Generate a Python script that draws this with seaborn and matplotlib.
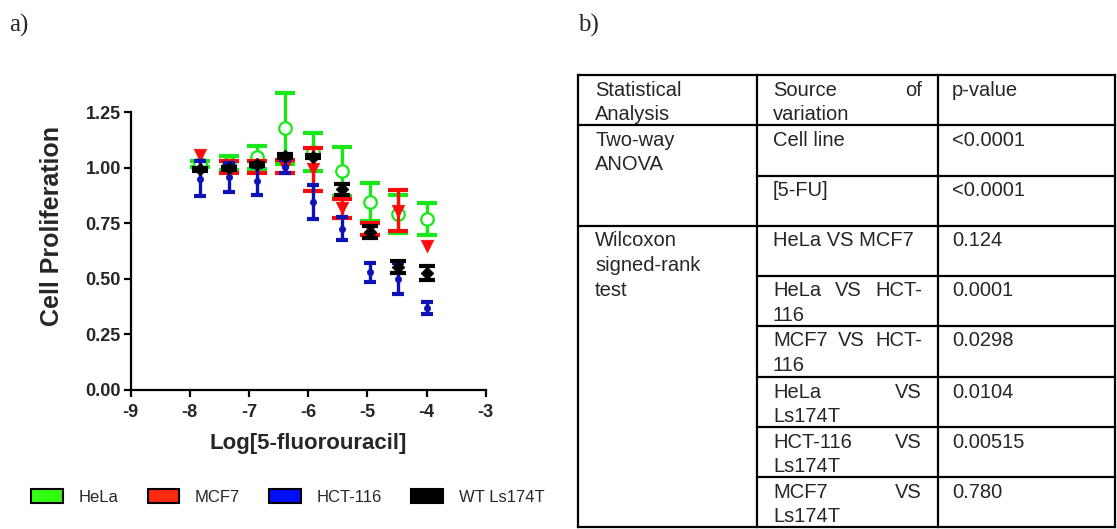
import matplotlib
matplotlib.use("Agg")
import matplotlib.pyplot as plt
import seaborn as sns
import numpy as np
import pandas as pd
from matplotlib.patches import Patch

sns.set_theme(style="white")
plt.rcParams['font.family'] = ['Liberation Sans', 'DejaVu Sans']

# ---------------- data ----------------
log_conc = [-7.82, -7.34, -6.86, -6.39, -5.91, -5.43, -4.95, -4.48, -4.00]

series_names = ["HeLa", "MCF7", "HCT-116", "WT Ls174T"]

hela_mean = [1.018, 1.022, 1.047, 1.178, 1.073, 0.984, 0.845, 0.791, 0.769]
hela_err = [0.015, 0.032, 0.053, 0.161, 0.085, 0.109, 0.086, 0.085, 0.073]

mcf7_mean = [1.059, 1.004, 1.004, 1.006, 0.993, 0.818, 0.725, 0.808, 0.650]
mcf7_err = [0.0, 0.028, 0.026, 0.030, 0.095, 0.044, 0.025, 0.093, 0.0]

hct_mean = [0.952, 0.957, 0.940, 1.006, 0.847, 0.727, 0.529, 0.500, 0.370]
hct_err = [0.077, 0.064, 0.063, 0.030, 0.075, 0.051, 0.041, 0.070, 0.028]

ls_mean = [0.994, 0.998, 1.016, 1.054, 1.051, 0.904, 0.710, 0.553, 0.528]
ls_err = [0.006, 0.008, 0.008, 0.010, 0.008, 0.024, 0.028, 0.028, 0.032]

x_ticks = [-9, -8, -7, -6, -5, -4, -3]
y_ticks = [0.00, 0.25, 0.50, 0.75, 1.00, 1.25]

legend_colors = ["#33ff11", "#ff2a10", "#0010ff", "#000000"]

table_rows = [
    (["Statistical", "Analysis"], [("j", "Source of"), "variation"], ["p-value"]),
    (["Two-way", "ANOVA"], ["Cell line"], ["<0.0001"]),
    (None, ["[5-FU]"], ["<0.0001"]),
    (["Wilcoxon", "signed-rank", "test"], ["HeLa VS MCF7"], ["0.124"]),
    (None, [("j", "HeLa VS HCT-"), "116"], ["0.0001"]),
    (None, [("j", "MCF7 VS HCT-"), "116"], ["0.0298"]),
    (None, [("j", "HeLa VS"), "Ls174T"], ["0.0104"]),
    (None, [("j", "HCT-116 VS"), "Ls174T"], ["0.00515"]),
    (None, [("j", "MCF7 VS"), "Ls174T"], ["0.780"]),
]

# ---------------- figure ----------------
W, H = 1117, 529
fig = plt.figure(figsize=(W / 100, H / 100), dpi=100)

ax = fig.add_axes([130.5 / W, 1 - 390 / H, (485.7 - 130.5) / W, (390 - 79) / H])
ax.set_facecolor("none")

styles = [
    dict(mean=hela_mean, err=hela_err, color="#18e818", marker="o", ms=9.0, face="white", mew=1.6, cap=7.0),
    dict(mean=mcf7_mean, err=mcf7_err, color="#ff0a0a", marker="v", ms=9.0, face="#ff0a0a", mew=0.5, cap=7.0),
    dict(mean=hct_mean, err=hct_err, color="#0a12b8", marker="o", ms=4.5, face="#0a12b8", mew=0.5, cap=4.0),
    dict(mean=ls_mean, err=ls_err, color="#000000", marker="D", ms=6.5, face="#000000", mew=0.5, cap=5.5),
]
for i, st in enumerate(styles):
    df = pd.DataFrame({"x": log_conc, "y": st["mean"], "e": st["err"]})
    dfe = df[df["e"] > 0]
    ax.errorbar(dfe["x"], dfe["y"], yerr=dfe["e"], fmt="none", ecolor=st["color"],
                elinewidth=2.4, capsize=st["cap"], capthick=3.0, zorder=2 + i, clip_on=False)
    sns.scatterplot(data=df, x="x", y="y", ax=ax, marker=st["marker"], s=st["ms"] ** 2,
                    facecolor=st["face"], edgecolor=st["color"], linewidth=st["mew"],
                    zorder=2.5 + i, clip_on=False, legend=False)

ax.set_xlim(-9, -3)
ax.set_ylim(0, 1.40)
ax.spines["left"].set_bounds(0, 1.25)
for s in ["top", "right"]:
    ax.spines[s].set_visible(False)
for s in ["left", "bottom"]:
    ax.spines[s].set_linewidth(1.6)
    ax.spines[s].set_color("black")
ax.set_xticks(x_ticks)
ax.set_yticks(y_ticks)
ax.set_xticklabels([f"{t:d}" for t in x_ticks], fontweight="bold", fontsize=13)
ax.set_yticklabels([f"{t:.2f}" for t in y_ticks], fontweight="bold", fontsize=13)
ax.tick_params(axis="x", direction="out", length=5, width=1.6, color="black", bottom=True, pad=5)
ax.tick_params(axis="y", direction="out", length=5, width=1.6, color="black", left=True, pad=2)
ax.set_xlabel("Log[5-fluorouracil]", fontweight="bold", fontsize=16, labelpad=9)
ax.set_ylabel("Cell Proliferation", fontweight="bold", fontsize=18)
ax.yaxis.set_label_coords(-(130.5 - 64) / (485.7 - 130.5), (390 - 226) / (390 - 79))
ax.grid(False)

# legend
handles = [Patch(facecolor=c, edgecolor="black", linewidth=1.5) for c in legend_colors]
fig.legend(handles, series_names, loc="center left", bbox_to_anchor=(31 / W, 1 - 497 / H),
           ncol=4, frameon=False, fontsize=12, handlelength=1.9, handleheight=0.95,
           handletextpad=0.95, columnspacing=1.75, borderpad=0, borderaxespad=0)

# ---------------- overlay for panel labels and table ----------------
ov = fig.add_axes([0, 0, 1, 1], zorder=-5)
ov.set_xlim(0, W)
ov.set_ylim(H, 0)
ov.axis("off")

ov.text(9, 32, "a)", family="Liberation Serif", fontsize=18, va="baseline", ha="left")
ov.text(578, 32, "b)", family="Liberation Serif", fontsize=18, va="baseline", ha="left")

col_x = [578, 757, 938, 1115]
row_y = [75, 125, 176, 226, 276, 326, 377, 427, 477, 527]
lw = 1.6
for cx in col_x:
    ov.plot([cx, cx], [row_y[0], row_y[-1]], color="black", lw=lw, solid_capstyle="projecting")
full_rows = {0, 1, 3, 9}
for i, ry in enumerate(row_y):
    x0 = col_x[0] if i in full_rows else col_x[1]
    ov.plot([x0, col_x[-1]], [ry, ry], color="black", lw=lw, solid_capstyle="projecting")

fs = 14.5
pad_l = [17, 16, 14]
pad_r = 16
line_h = 24.5
first_base = 20.5
renderer = fig.canvas.get_renderer()

def width_of(s):
    t = ov.text(0, 0, s, fontsize=fs)
    bb = t.get_window_extent(renderer=renderer)
    t.remove()
    return bb.width

for r, row in enumerate(table_rows):
    top = row_y[r]
    for c, cell in enumerate(row):
        if cell is None:
            continue
        left = col_x[c] + pad_l[c]
        right = col_x[c + 1] - pad_r
        for k, line in enumerate(cell):
            yb = top + first_base + k * line_h
            if isinstance(line, tuple):
                words = line[1].split()
                widths = [width_of(w) for w in words]
                gap = (right - left - sum(widths)) / (len(words) - 1)
                xx = left
                for w, wd in zip(words, widths):
                    ov.text(xx, yb, w, fontsize=fs, va="baseline", ha="left")
                    xx += wd + gap
            else:
                ov.text(left, yb, line, fontsize=fs, va="baseline", ha="left")

fig.savefig("out.png", dpi=100)
